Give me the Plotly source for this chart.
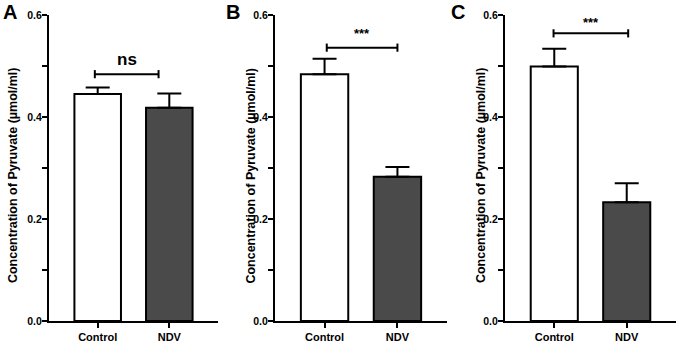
import plotly.graph_objects as go

categories = ["Control", "NDV"]
panel_labels = ["A", "B", "C"]
means_A = [0.445, 0.418]
sem_A = [0.013, 0.028]
means_B = [0.484, 0.283]
sem_B = [0.030, 0.019]
means_C = [0.499, 0.233]
sem_C = [0.035, 0.037]
sig_text = ["ns", "***", "***"]
bracket_y = [0.484, 0.536, 0.564]
bracket_x0 = [-0.04, 0.03, -0.01]
bracket_x1 = [0.85, 1.0, 1.02]
y_tick_vals = [0.0, 0.2, 0.4, 0.6]
y_tick_text = ["0.0", "0.2", "0.4", "0.6"]
y_minor_vals = [0.1, 0.3, 0.5]
y_title = "Concentration of Pyruvate (µmol/ml)"

means = [means_A, means_B, means_C]
sems = [sem_A, sem_B, sem_C]

W, H = 678, 347
FONT = "Liberation Sans"
x_domains = [(49 / W, 218 / W), (275 / W, 447 / W), (505 / W, 676 / W)]
y_domain = (26 / H, 332 / H)
title_x = [12.5 / W, 251 / W, 480.5 / W]
letter_x = [10 / W, 233 / W, 458 / W]
text_shift = [13, 15, 11]
text_size = [17, 13, 13]

fig = go.Figure()
annotations = []
for i in range(3):
    xa = "x" if i == 0 else f"x{i+1}"
    ya = "y" if i == 0 else f"y{i+1}"
    fig.add_trace(go.Bar(
        x=[0, 1], y=means[i], xaxis=xa, yaxis=ya, width=0.65,
        marker=dict(color=["white", "#4a4a4a"], line=dict(color="black", width=2)),
        error_y=dict(type="data", array=sems[i], arrayminus=[0, 0], symmetric=False,
                     color="black", thickness=2, width=12),
        showlegend=False, cliponaxis=False,
    ))
    x0, x1, yb = bracket_x0[i], bracket_x1[i], bracket_y[i]
    d = 0.008
    fig.add_trace(go.Scatter(
        x=[x0, x0, None, x0, x1, None, x1, x1],
        y=[yb - d, yb + d, None, yb, yb, None, yb - d, yb + d],
        xaxis=xa, yaxis=ya, mode="lines", line=dict(color="black", width=2),
        showlegend=False, cliponaxis=False, hoverinfo="skip",
    ))
    annotations.append(dict(
        x=(x0 + x1) / 2, y=yb, xref=xa, yref=ya, text=f"<b>{sig_text[i]}</b>",
        showarrow=False, yanchor="bottom", yshift=text_shift[i] - 10,
        font=dict(family=FONT, size=text_size[i], color="black"),
    ))
    annotations.append(dict(
        x=title_x[i], y=0.494, xref="paper", yref="paper", text=f"<b>{y_title}</b>",
        textangle=-90, showarrow=False, xanchor="center", yanchor="middle",
        font=dict(family=FONT, size=12.5, color="black"),
    ))
    annotations.append(dict(
        x=letter_x[i], y=1 - 12 / H, xref="paper", yref="paper", text=f"<b>{panel_labels[i]}</b>",
        showarrow=False, xanchor="center", yanchor="middle",
        font=dict(family=FONT, size=20, color="black"),
    ))
    xkey = "xaxis" if i == 0 else f"xaxis{i+1}"
    ykey = "yaxis" if i == 0 else f"yaxis{i+1}"
    fig.update_layout({
        xkey: dict(domain=list(x_domains[i]), anchor=ya, range=[-0.68, 1.68],
                   tickvals=[0, 1], ticktext=[f"<b>{c}</b>" for c in categories],
                   showline=True, linecolor="black", linewidth=2, ticks="outside",
                   ticklen=5, tickwidth=2, tickcolor="black", showgrid=False, zeroline=False,
                   automargin=False,
                   tickfont=dict(family=FONT, size=11, color="black"), fixedrange=True),
        ykey: dict(domain=list(y_domain), anchor=xa, range=[0, 0.6],
                   tickvals=y_tick_vals, ticktext=[f"<b>{t}</b>" for t in y_tick_text],
                   showline=True, linecolor="black", linewidth=2, ticks="outside",
                   ticklen=5, tickwidth=2, tickcolor="black", showgrid=False, zeroline=False,
                   automargin=False, ticklabelstandoff=-2,
                   tickfont=dict(family=FONT, size=10.5, color="black"),
                   minor=dict(tickvals=y_minor_vals, ticks="outside", ticklen=5,
                              tickwidth=2, tickcolor="black", showgrid=False),
                   fixedrange=True),
    })

fig.update_layout(
    width=W, height=H, margin=dict(l=0, r=0, t=0, b=0),
    paper_bgcolor="white", plot_bgcolor="white",
    annotations=annotations, bargap=0.3,
)
fig.write_html("out.html", config={"displayModeBar": False},
               post_script="document.body.style.margin='0';")
